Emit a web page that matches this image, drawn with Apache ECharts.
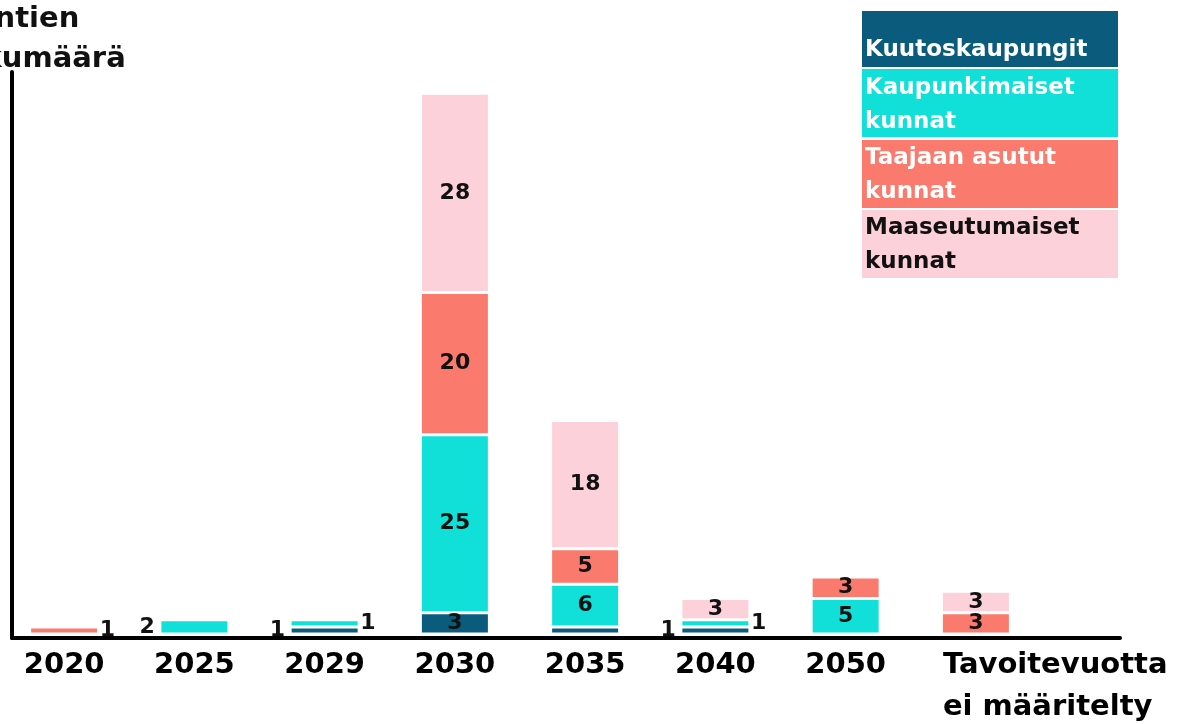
<!DOCTYPE html>
<html>
<head>
<meta charset="utf-8">
<script src="https://cdn.jsdelivr.net/npm/echarts@6/dist/echarts.min.js"></script>
<style>
  html, body { margin: 0; padding: 0; background: #ffffff; }
  #chart { width: 1186px; height: 724px; }
</style>
</head>
<body>
<div id="chart"></div>
<script>
// Kuntien lukumäärä tavoitevuoden mukaan, kuntaryhmittäin
const categories = ['2020', '2025', '2029', '2030', '2035', '2040', '2050', 'Tavoitevuotta\nei määritelty'];
const groupNames = ['Kuutoskaupungit', 'Kaupunkimaiset kunnat', 'Taajaan asutut kunnat', 'Maaseutumaiset kunnat'];

const kuutoskaupungit = [null, null, 1, 3, 1, 1, null, null];
const kaupunkimaiset  = [null, 2, 1, 25, 6, 1, 5, null];
const taajaanAsutut   = [1, null, null, 20, 5, null, 3, 3];
const maaseutumaiset  = [null, null, null, 28, 18, 3, null, 3];

const groupValues = [kuutoskaupungit, kaupunkimaiset, taajaanAsutut, maaseutumaiset];
const groupColors = ['#0b5b7c', '#10e0d8', '#fa7b6d', '#fdd1da'];
const legendTextColors = ['#ffffff', '#ffffff', '#ffffff', '#111111'];

// thin segments get their number beside the bar instead of inside it
const labelPlacement = [
  { 2: 'left', 4: 'hidden', 5: 'left' },
  { 1: 'left', 2: 'right', 5: 'right' },
  { 0: 'right' },
  {}
];

const FONT = '"DejaVu Sans", "Noto Sans", sans-serif';

function buildData(values, placement) {
  return values.map((v, i) => {
    if (v == null) return null;
    const where = placement[i];
    if (where === 'hidden') return { value: v, label: { show: false } };
    if (where === 'left') return { value: v, label: { position: 'left', distance: 5 } };
    if (where === 'right') return { value: v, label: { position: 'right', distance: 1 } };
    return v;
  });
}

const series = groupNames.map((name, k) => ({
  name: name,
  type: 'bar',
  stack: 'kunnat',
  xAxisIndex: 0,
  yAxisIndex: 0,
  barWidth: 69,
  data: buildData(groupValues[k], labelPlacement[k]),
  itemStyle: { color: groupColors[k], borderColor: '#ffffff', borderWidth: 1.5 },
  label: {
    show: true,
    position: 'inside',
    color: '#111111',
    fontFamily: FONT,
    fontWeight: 'bold',
    fontSize: 22
  }
}));

// legend drawn as coloured boxes with the group name inside
const legendBoxes = [
  { top: 11, height: 56, textTop: 33 },
  { top: 69, height: 68, textTop: 71 },
  { top: 140, height: 68, textTop: 141 },
  { top: 210, height: 68, textTop: 211 }
];
const legendGraphics = [];
groupNames.forEach((name, k) => {
  const box = legendBoxes[k];
  legendGraphics.push({
    type: 'rect',
    left: 862,
    top: box.top,
    shape: { width: 256, height: box.height },
    style: { fill: groupColors[k] },
    silent: true
  });
  legendGraphics.push({
    type: 'text',
    left: 865,
    top: box.textTop,
    style: {
      text: name.replace(' kunnat', '\nkunnat'),
      fill: legendTextColors[k],
      font: 'bold 23px ' + FONT,
      lineHeight: 34
    },
    silent: true
  });
});

const xData = categories.map((c, i) =>
  i === categories.length - 1
    ? { value: c, textStyle: { align: 'left', padding: [0, 0, 0, -33] } }
    : c
);

const option = {
  animation: false,
  backgroundColor: '#ffffff',
  title: {
    text: 'Kuntien\nlukumäärä',
    left: -48,
    top: -1,
    padding: 0,
    textStyle: { fontFamily: FONT, fontWeight: 'bold', fontSize: 29, lineHeight: 40, color: '#111111' }
  },
  grid: [
    { left: -1, width: 1042, top: 72, bottom: 90, outerBoundsMode: 'none', containLabel: false },
    { left: 12, right: 66, top: 72, bottom: 86, outerBoundsMode: 'none', containLabel: false }
  ],
  xAxis: [
    {
      type: 'category',
      gridIndex: 0,
      data: xData,
      axisLine: { show: false },
      axisTick: { show: false },
      axisLabel: {
        interval: 0,
        margin: 10,
        color: '#000000',
        fontFamily: FONT,
        fontWeight: 'bold',
        fontSize: 29,
        lineHeight: 42
      }
    },
    {
      type: 'value',
      gridIndex: 1,
      min: 0,
      max: 1,
      axisLine: { show: true, lineStyle: { color: '#000000', width: 4 } },
      axisTick: { show: false },
      axisLabel: { show: false },
      splitLine: { show: false }
    }
  ],
  yAxis: [
    { type: 'value', gridIndex: 0, min: 0, max: 79, show: false },
    {
      type: 'value',
      gridIndex: 1,
      min: 0,
      max: 1,
      axisLine: { show: true, lineStyle: { color: '#000000', width: 4 } },
      axisTick: { show: false },
      axisLabel: { show: false },
      splitLine: { show: false }
    }
  ],
  graphic: legendGraphics,
  series: series
};

const chart = echarts.init(document.getElementById('chart'), null, { renderer: 'canvas' });
chart.setOption(option);
</script>
</body>
</html>
